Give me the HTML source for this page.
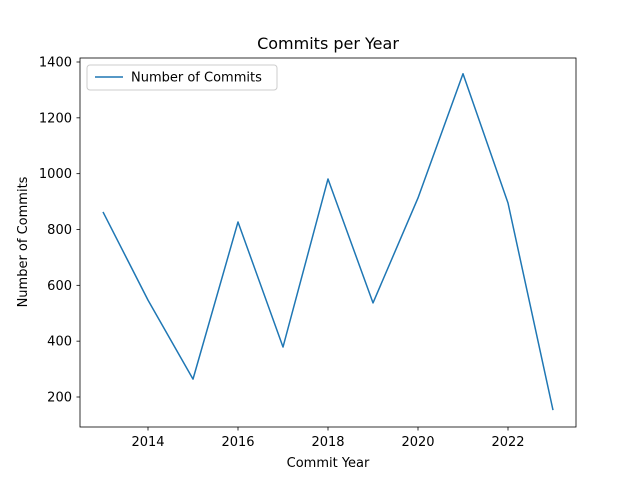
<!DOCTYPE html>
<html><head><meta charset="utf-8"><style>body{margin:0;background:#fff}svg{display:block;font-family:"DejaVu Sans","Liberation Sans",sans-serif}</style></head>
<body>
<svg id="chart" width="640" height="480">
<rect width="640" height="480" fill="#fff"/>
<text x="328" y="49" text-anchor="middle" font-size="16">Commits per Year</text>
<g id="axes"></g>
<rect x="80" y="58" width="496" height="369" fill="none" stroke="#000" stroke-width="0.8"/>
<text x="328" y="467" text-anchor="middle" font-size="13">Commit Year</text>
<text transform="translate(27,242) rotate(-90)" text-anchor="middle" font-size="13">Number of Commits</text>
<g>
<rect x="87" y="65" width="190" height="25" rx="3" fill="#fff" stroke="#ccc"/>
<line x1="95" y1="77" x2="123" y2="77" stroke="#1f77b4" stroke-width="1.5"/>
<text x="131" y="81.5" font-size="13">Number of Commits</text>
</g>
</svg>
<script>
const years=[2013,2014,2015,2016,2017,2018,2019,2020,2021,2022,2023];
const commits=[863,547,264,827,379,981,537,913,1358,895,153];
const xTicks=[2014,2016,2018,2020,2022];
const yTicks=[200,400,600,800,1000,1200,1400];
const NS="http://www.w3.org/2000/svg";
function x(v){return 148+(v-2014)*45;}
function y(v){return 397-(v-200)*335/1200;}
const g=document.getElementById('axes');
function mk(t,a){const e=document.createElementNS(NS,t);for(const k in a)e.setAttribute(k,a[k]);return e;}
xTicks.forEach(t=>{
 const l=mk('line',{x1:x(t),x2:x(t),y1:427,y2:430.5,stroke:'#000','stroke-width':0.8});
 
 
 g.appendChild(l);
 const s=mk('text',{x:x(t),y:446,'text-anchor':'middle','font-size':13});
 
 
 s.textContent=t;g.appendChild(s);
});
yTicks.forEach(t=>{
 const l=mk('line',{x1:76.5,x2:80,y1:y(t),y2:y(t),stroke:'#000','stroke-width':0.8});
 
 
 g.appendChild(l);
 const s=mk('text',{x:72,y:y(t)+4.5,'text-anchor':'end','font-size':13});
 
 
 s.textContent=t;g.appendChild(s);
});
const p=mk('polyline',{points:years.map((yr,i)=>x(yr)+','+y(commits[i])).join(' '),fill:'none',stroke:'#1f77b4','stroke-width':1.5,'stroke-linejoin':'round'});


g.appendChild(p);
</script>
</body></html>
